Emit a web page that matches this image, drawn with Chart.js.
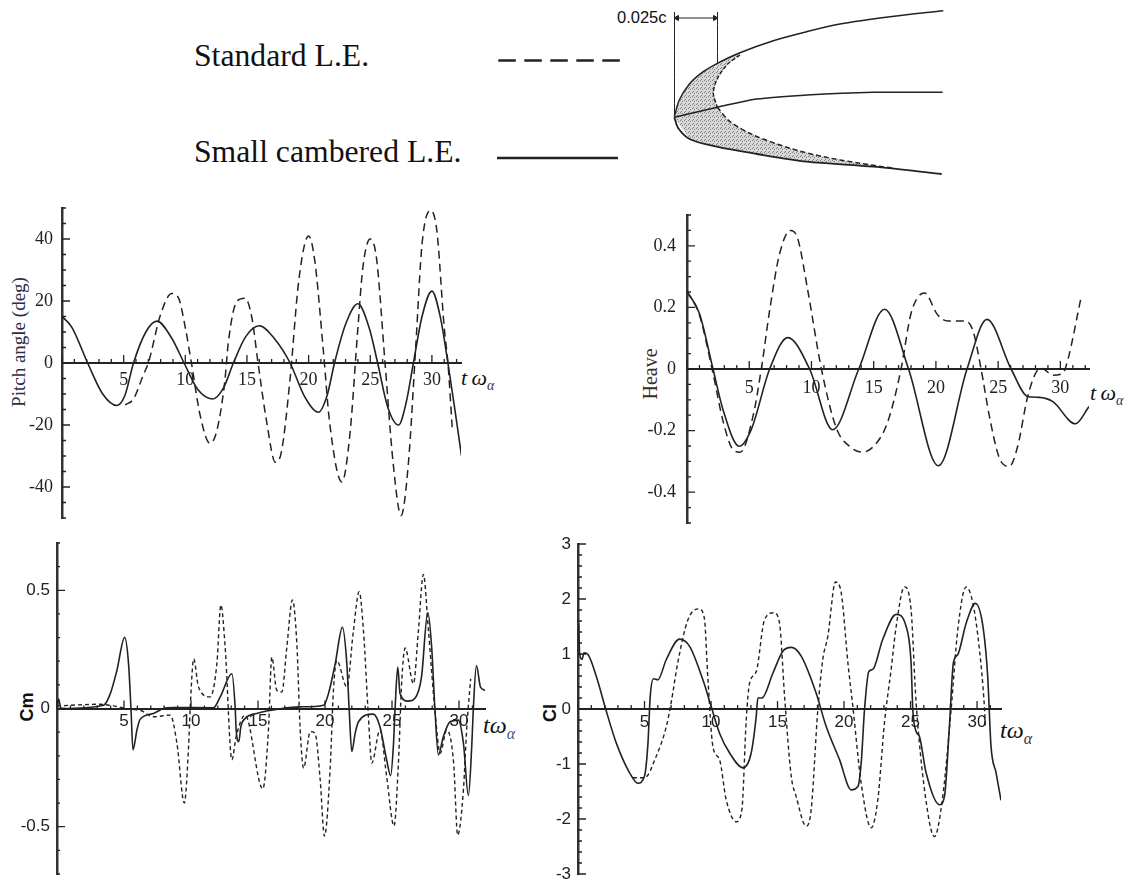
<!DOCTYPE html>
<html>
<head>
<meta charset="utf-8">
<title>Pitch, heave, Cm and Cl</title>
<script src="https://cdn.jsdelivr.net/npm/chart.js@4"></script>
<style>
  body { margin: 0; background: #fff; width: 1126px; height: 883px; overflow: hidden; position: relative; }
  canvas { position: absolute; }
  .txt { position: absolute; white-space: nowrap; color: #111; line-height: 1; }
  .serif { font-family: "Liberation Serif", serif; }
  .sans { font-family: "Liberation Sans", sans-serif; }
  .rot { transform: translate(-50%, -50%) rotate(-90deg); }
  .xl { font-family: "Liberation Serif", serif; font-style: italic; font-size: 22px; transform: translateY(-50%); }
  .xl sub { font-size: 14px; line-height: 0; color: #334; }
</style>
</head>
<body>

<div class="txt serif" style="left:194px;top:40px;font-size:31.7px">Standard L.E.</div>
<div class="txt serif" style="left:194px;top:136px;font-size:31.7px">Small cambered L.E.</div>
<div class="txt sans" style="left:617px;top:9px;font-size:16.5px">0.025c</div>

<div class="txt serif rot" style="left:18px;top:342px;font-size:19px;color:#2c2c4a">Pitch angle (deg)</div>
<div class="txt serif rot" style="left:650px;top:374px;font-size:20px;color:#3a2c2c">Heave</div>
<div class="txt sans rot" style="left:27px;top:707px;font-size:18px;font-weight:bold">Cm</div>
<div class="txt sans rot" style="left:550px;top:713px;font-size:18px;font-weight:bold">Cl</div>

<div class="txt xl" style="left:461px;top:378px">t&thinsp;ω<sub>α</sub></div>
<div class="txt xl" style="left:1090px;top:393px">t&thinsp;ω<sub>α</sub></div>
<div class="txt xl" style="left:483px;top:725px;font-size:24px">tω<sub style="color:#3a5a8a;font-size:16px">α</sub></div>
<div class="txt xl" style="left:1000px;top:730px;font-size:24px">tω<sub style="font-size:16px">α</sub></div>

<script>
// pitch angle
const pitchSolidT = [0, 0.8, 2.08, 3.3, 4.45, 5.1, 5.8, 6.8, 7.7, 8.9, 9.9, 11, 12.2, 13.1, 13.9, 14.9, 16, 17.3, 18.5, 19.7, 20.8, 21.5, 22.1, 23, 24, 24.9, 25.6, 26.4, 27.3, 27.9, 28.5, 29.2, 30, 30.7, 31.3, 31.9, 32.4];
const pitchSolidV = [15, 11.5, 0, -10, -13.7, -10.5, 0, 10, 13.5, 8, 0, -8.5, -11.6, -8, 0, 8.5, 12, 7.5, 0, -11, -15.9, -10.5, 0, 12.5, 19.1, 11.5, 0, -14, -20, -13, 0, 15, 23.2, 14.5, 0, -16, -30];
const pitchDashT = [5.13, 5.8, 6.6, 7, 8, 8.9, 9.45, 10, 10.5, 11.2, 12, 12.55, 13.2, 13.5, 14.2, 14.85, 15.4, 15.9, 16.6, 17.3, 17.8, 18.5, 19.2, 20, 20.5, 21.2, 21.7, 22.7, 23.35, 24, 24.4, 25, 25.5, 26.2, 26.85, 27.5, 28.1, 28.7, 29.2, 29.9, 30.4, 31, 31.3, 31.65];
const pitchDashV = [-13.5, -11.6, -3.8, 0, 15.7, 22.4, 21, 11.4, 0, -16.8, -25.9, -22, -6, 7, 20, 20.9, 14.6, 0, -19, -32, -28.6, -5, 26.5, 41, 33, 3.8, -19, -38.4, -23, 11.4, 30.8, 40, 34, 0, -32, -49.2, -32, 6, 38.4, 49.2, 42.7, 11.4, 0, -21];

// heave
const heaveSolidT = [0, 1, 2.09, 2.9, 4.2, 5.16, 6.64, 8.1, 9.85, 11.7, 13.8, 15.87, 17.8, 20.2, 22.5, 24.1, 26.04, 27.4, 28.3, 29.4, 31.2, 32.3];
const heaveSolidV = [0.252, 0.18, 0, -0.133, -0.251, -0.197, 0, 0.102, 0, -0.197, 0, 0.194, 0, -0.314, 0, 0.161, 0, -0.09, -0.092, -0.106, -0.178, -0.122];
const heaveDashT = [0, 1, 2.09, 2.9, 3.7, 4.28, 5.3, 5.97, 6.64, 7.44, 8.32, 8.9, 9.7, 10.8, 12, 13.06, 14.1, 15.6, 16.27, 17.2, 18, 19.08, 20.15, 20.95, 22.4, 23, 23.63, 24.3, 25.1, 25.9, 26.57, 27.37, 28.18, 28.5, 29.4, 30.2, 30.6, 31.66];
const heaveDashV = [0.252, 0.175, -0.014, -0.17, -0.262, -0.27, -0.154, 0, 0.19, 0.374, 0.45, 0.423, 0.256, 0, -0.192, -0.251, -0.27, -0.219, -0.154, 0, 0.18, 0.247, 0.175, 0.156, 0.156, 0.121, 0, -0.154, -0.289, -0.316, -0.251, -0.09, -0.003, 0.002, -0.02, -0.014, 0.03, 0.232];

// Cm
const cmSolidT = [0, 0.12, 0.3, 3.48, 3.98, 4.47, 5.05, 5.34, 5.52, 5.67, 5.97, 6.2, 7.2, 7.95, 8.7, 11.68, 12.18, 13.05, 13.3, 13.37, 13.57, 13.72, 14.04, 14.9, 16.78, 18.15, 19.9, 20.26, 20.76, 21.3, 21.63, 21.8, 22, 22.25, 22.5, 23.6, 24.1, 24.6, 24.9, 25.1, 25.23, 25.43, 25.6, 26.2, 26.7, 27.2, 27.67, 27.96, 28.2, 28.46, 28.83, 29.33, 29.95, 30.33, 30.7, 30.95, 31.07, 31.3, 31.6, 31.94];
const cmSolidV = [0, 0.04, 0, 0.014, 0.063, 0.161, 0.301, 0.189, 0, -0.175, -0.09, -0.046, -0.021, 0, 0.004, 0.003, 0.049, 0.147, 0, -0.091, -0.14, -0.077, -0.042, -0.021, 0, 0.007, 0.014, 0.063, 0.189, 0.343, 0.189, 0, -0.182, -0.105, -0.056, -0.024, -0.077, -0.217, -0.284, -0.161, 0, 0.175, 0.063, 0.031, 0.042, 0.133, 0.406, 0.259, 0, -0.196, -0.119, -0.056, -0.049, -0.147, -0.368, -0.161, 0, 0.182, 0.091, 0.077];
const cmDashT = [0, 3.23, 4.2, 5.47, 6.2, 7.2, 8.45, 8.95, 9.5, 9.82, 9.94, 10.2, 10.56, 11.43, 11.93, 12.23, 12.55, 13.05, 13.37, 14.04, 15.36, 15.78, 16.03, 16.4, 16.78, 17.15, 17.57, 17.9, 18.15, 18.4, 18.9, 19.26, 19.64, 19.96, 20.38, 20.63, 20.88, 21.63, 22.12, 22.55, 22.87, 23.24, 23.49, 24.1, 24.6, 25.15, 25.48, 25.73, 25.98, 26.6, 26.97, 27.34, 27.72, 28.2, 28.6, 29.08, 29.6, 29.9, 30.33, 30.57, 30.87];
const cmDashV = [0.011, 0.018, 0.011, -0.003, -0.007, -0.035, -0.028, -0.147, -0.4, -0.161, 0, 0.21, 0.091, 0.049, 0.189, 0.438, 0.259, -0.217, -0.119, -0.028, -0.34, -0.091, 0.217, 0.077, 0.07, 0.259, 0.459, 0.273, -0.091, -0.252, -0.098, -0.105, -0.301, -0.54, -0.259, 0.077, 0.203, 0.091, 0.329, 0.494, 0.329, -0.035, -0.231, -0.091, -0.287, -0.497, -0.231, 0.119, 0.256, 0.105, 0.329, 0.567, 0.329, -0.007, -0.189, -0.091, -0.231, -0.536, -0.343, -0.091, 0.126];

// Cl
const clSolidT = [0.05, 0.12, 0.3, 0.45, 0.75, 1.38, 2.08, 2.88, 3.88, 4.5, 5, 5.26, 5.43, 5.68, 6, 6.64, 7.64, 8.39, 9.39, 9.97, 10.64, 11.4, 12.4, 13.02, 13.4, 13.52, 13.82, 14.65, 15.4, 16.03, 16.78, 17.9, 18.66, 19.66, 20.54, 21.04, 21.29, 21.54, 21.86, 22.16, 22.9, 23.92, 24.67, 25.04, 25.17, 25.42, 25.67, 26.17, 27.17, 27.55, 27.92, 28.22, 28.55, 29.18, 29.88, 30.48, 30.8, 31.05, 31.43, 31.8];
const clSolidV = [1.56, 1.02, 0.9, 1.02, 0.99, 0.59, 0, -0.62, -1.16, -1.35, -1.22, -0.62, 0.23, 0.55, 0.53, 0.9, 1.27, 1.14, 0.53, 0.08, -0.44, -0.8, -1.07, -0.8, -0.13, 0.2, 0.2, 0.65, 1.05, 1.12, 0.96, 0.29, -0.32, -0.92, -1.47, -1.41, -0.98, -0.01, 0.68, 0.72, 1.26, 1.72, 1.5, 0.84, -0.01, -0.41, -0.5, -1.16, -1.74, -1.59, -0.32, 0.84, 0.99, 1.56, 1.92, 1.44, 0.59, -0.68, -1.16, -1.66];
const clDashT = [4.13, 5, 5.88, 6.64, 7, 7.5, 8.26, 9.09, 9.5, 9.77, 10.14, 10.64, 11.14, 11.9, 12.32, 12.65, 12.9, 13.4, 14.02, 14.73, 15.15, 15.53, 16.03, 16.4, 17.15, 17.53, 18.03, 18.4, 18.78, 19.36, 19.79, 20.29, 20.66, 21.29, 22.04, 22.54, 23.04, 23.54, 23.92, 24.54, 25.04, 25.42, 26.3, 26.8, 27.42, 28.05, 28.55, 29.18, 29.68, 30.18, 30.55, 30.63];
const clDashV = [-1.25, -1.25, -0.86, -0.32, 0.11, 0.84, 1.62, 1.82, 1.65, 0.53, -0.68, -0.92, -1.65, -2.05, -1.83, -0.19, 0.47, 0.68, 1.62, 1.75, 1.56, 0.23, -1.22, -1.59, -2.13, -1.83, -0.01, 0.9, 1.32, 2.31, 2.11, 0.84, 0.05, -1.35, -2.16, -1.65, -0.25, 0.72, 1.5, 2.22, 1.8, 0.11, -1.89, -2.32, -1.59, -0.01, 1.44, 2.22, 1.93, 1.08, 0.05, -0.32];

// airfoil sketch + legend samples, in page units
const foilUpperX = [674.3, 679.3, 690, 703.3, 717.3, 740, 773.3, 806.7, 840, 890, 943.3];
const foilUpperY = [116.7, 100, 83.3, 71.7, 63.3, 52.7, 40.7, 31.7, 24, 16.7, 10.7];
const foilCamberX = [674.3, 717.3, 756.7, 806.7, 873.3, 942.7];
const foilCamberY = [117.3, 107.3, 99, 95, 92.3, 92.3];
const foilLowerX = [674.3, 678.3, 690, 716.7, 756.7, 806.7, 873.3, 941.7];
const foilLowerY = [117.3, 128.3, 139.3, 146.7, 154, 161.7, 166.7, 174];
const stdTopX = [740, 726.7, 716.7, 713.3, 717.3];
const stdTopY = [55, 65, 80, 93.3, 107.3];
const stdBottomX = [717.3, 730, 753.3, 790, 823.3, 856.7, 893.3];
const stdBottomY = [107.3, 121.7, 135, 148.3, 156.7, 162.7, 168.3];
const dimLeftX = [674.5, 674.5], dimLeftY = [12, 116];
const dimRightX = [717.5, 717.5], dimRightY = [12, 64];
const dimArrowX = [677, 715], dimArrowY = [18, 18];
const legendDashX = [498.3, 620], legendDashY = [60.5, 60.5];
const legendSolidX = [497, 618], legendSolidY = [158, 158];

const zip = (xs, ys) => xs.map((x, i) => ({ x, y: ys[i] }));

// ticks on the inside of the axes, Tecplot style
const innerTicks = {
    id: 'innerTicks',
    beforeDatasetsDraw(chart, args, o) {
        const { ctx, scales: { x, y } } = chart;
        const y0 = y.getPixelForValue(0);
        const isMult = (v, s) => Math.abs(v / s - Math.round(v / s)) < 1e-6;
        ctx.save();
        ctx.strokeStyle = '#222';
        ctx.lineWidth = 1.3;
        ctx.beginPath();
        x.ticks.forEach(t => {
            const px = x.getPixelForValue(t.value);
            const len = isMult(t.value, 5) ? o.xMajorLen : o.xMinorLen;
            ctx.moveTo(px, y0);
            ctx.lineTo(px, y0 - len);
        });
        y.ticks.forEach(t => {
            const py = y.getPixelForValue(t.value);
            const len = isMult(t.value, o.yMajor) ? o.yMajorLen : o.yMinorLen;
            ctx.moveTo(x.left, py);
            ctx.lineTo(x.left + len, py);
        });
        ctx.stroke();
        ctx.restore();
    },
};

function panel(p) {
    const cv = document.createElement('canvas');
    const pad = 70;
    cv.width = p.right - p.left + pad + 12;
    cv.height = p.bottom - p.top + 30;
    cv.style.left = (p.left - pad) + 'px';
    cv.style.top = (p.top - 15) + 'px';
    document.body.appendChild(cv);
    const isMult = (v, s) => Math.abs(v / s - Math.round(v / s)) < 1e-6;
    new Chart(cv, {
        type: 'line',
        plugins: [innerTicks],
        data: {
            datasets: [
                { data: zip(p.solidT, p.solidV), borderColor: '#222', borderWidth: 1.6, cubicInterpolationMode: 'monotone', pointRadius: 0 },
                { data: zip(p.dashT, p.dashV), borderColor: '#222', borderWidth: p.dashWidth, borderDash: p.dash, cubicInterpolationMode: 'monotone', pointRadius: 0 },
            ],
        },
        options: {
            responsive: false,
            animation: false,
            layout: { autoPadding: false, padding: { top: 15, bottom: 15, right: 12, left: 0 } },
            plugins: {
                legend: { display: false },
                tooltip: { enabled: false },
                innerTicks: { yMajor: p.yMajor, xMajorLen: p.xMajorLen, xMinorLen: p.xMinorLen, yMajorLen: 8, yMinorLen: p.yMinorLen },
            },
            scales: {
                x: {
                    type: 'linear',
                    min: 0,
                    max: p.xMax,
                    position: { y: 0 },
                    grid: { display: false, drawTicks: false },
                    border: { color: '#222', width: 2 },
                    ticks: {
                        stepSize: 1,
                        autoSkip: false,
                        includeBounds: false,
                        maxRotation: 0,
                        padding: p.xPad,
                        color: '#222',
                        font: { family: p.font, size: p.fontSize },
                        callback: v => (v > 0 && isMult(v, 5)) ? String(v) : '',
                    },
                },
                y: {
                    min: p.yMin,
                    max: p.yMax,
                    // tick padding would otherwise eat into the plot height
                    afterFit: s => { s.width = pad; s.paddingTop = 0; s.paddingBottom = 0; },
                    grid: { display: false, drawTicks: false },
                    border: { color: '#333', width: 2.5 },
                    ticks: {
                        stepSize: p.yStep,
                        autoSkip: false,
                        includeBounds: false,
                        padding: p.yPad,
                        color: '#222',
                        font: { family: p.font, size: p.fontSize },
                        callback: v => isMult(v, p.yLabel) ? String(+v.toFixed(3)) : '',
                    },
                },
            },
        },
    });
}

const serif = '"Liberation Serif", serif', sans = '"Liberation Sans", sans-serif';

panel({ left: 62, right: 461.7, top: 208, bottom: 518, xMax: 32.36, yMin: -50, yMax: 50, yStep: 5, yLabel: 20, yMajor: 20,
    solidT: pitchSolidT, solidV: pitchSolidV, dashT: pitchDashT, dashV: pitchDashV,
    dash: [8, 5], dashWidth: 1.5, font: serif, fontSize: 18, xPad: 6, yPad: 9, xMajorLen: 8, xMinorLen: 4, yMinorLen: 4 });

panel({ left: 687.3, right: 1090, top: 215, bottom: 523, xMax: 32.3, yMin: -0.5, yMax: 0.5, yStep: 0.05, yLabel: 0.2, yMajor: 0.2,
    solidT: heaveSolidT, solidV: heaveSolidV, dashT: heaveDashT, dashV: heaveDashV,
    dash: [8, 5], dashWidth: 1.5, font: serif, fontSize: 18, xPad: 8, yPad: 11, xMajorLen: 8, xMinorLen: 4, yMinorLen: 4 });

panel({ left: 56.7, right: 485, top: 542.5, bottom: 874.3, xMax: 31.94, yMin: -0.7, yMax: 0.7, yStep: 0.1, yLabel: 0.5, yMajor: 0.5,
    solidT: cmSolidT, solidV: cmSolidV, dashT: cmDashT, dashV: cmDashV,
    dash: [4, 3], dashWidth: 1.4, font: sans, fontSize: 17, xPad: 3, yPad: 7, xMajorLen: 8, xMinorLen: 3, yMinorLen: 3 });

panel({ left: 578.3, right: 1001.7, top: 544, bottom: 874.3, xMax: 31.8, yMin: -3, yMax: 3, yStep: 0.2, yLabel: 1, yMajor: 1,
    solidT: clSolidT, solidV: clSolidV, dashT: clDashT, dashV: clDashV,
    dash: [4, 3], dashWidth: 1.4, font: sans, fontSize: 17, xPad: 3, yPad: 7, xMajorLen: 8, xMinorLen: 4, yMinorLen: 4 });

// header: legend samples and the leading edge sketch
const stipple = document.createElement('canvas');
stipple.width = stipple.height = 4;
const sc = stipple.getContext('2d');
sc.fillStyle = '#d8d8d8';
sc.fillRect(0, 0, 4, 4);
sc.fillStyle = '#808080';
sc.fillRect(0, 0, 1, 1);
sc.fillRect(2, 1, 1, 1);
sc.fillRect(1, 3, 1, 1);
const shade = sc.createPattern(stipple, 'repeat');

const headCv = document.createElement('canvas');
headCv.width = 1126;
headCv.height = 195;
headCv.style.left = '0px';
headCv.style.top = '0px';
document.body.appendChild(headCv);

const curve = (xs, ys, extra) => Object.assign({ data: zip(xs, ys), borderColor: '#222', borderWidth: 1.5, tension: 0.3, pointRadius: 0 }, extra);
const shadeTopX = [...foilUpperX.slice(0, 6), ...stdTopX, foilCamberX[0]];
const shadeTopY = [...foilUpperY.slice(0, 6), ...stdTopY, foilCamberY[0]];
const shadeBotX = [foilCamberX[0], ...stdBottomX, ...foilLowerX.slice().reverse().slice(1, 6), foilLowerX[0]];
const shadeBotY = [foilCamberY[0], ...stdBottomY, ...foilLowerY.slice().reverse().slice(1, 6), foilLowerY[0]];

new Chart(headCv, {
    type: 'line',
    data: {
        datasets: [
            curve(foilUpperX, foilUpperY),
            curve(foilCamberX, foilCamberY),
            curve(foilLowerX, foilLowerY, { borderWidth: 1.8 }),
            curve(stdTopX, stdTopY, { borderDash: [4, 2] }),
            curve(stdBottomX, stdBottomY, { borderDash: [5, 3] }),
            curve(dimLeftX, dimLeftY, { borderWidth: 1 }),
            curve(dimRightX, dimRightY, { borderWidth: 1 }),
            curve(dimArrowX, dimArrowY, { borderWidth: 1, pointRadius: 3, pointStyle: 'triangle', pointBackgroundColor: '#222', pointRotation: [-90, 90] }),
            curve(legendDashX, legendDashY, { borderWidth: 2.4, borderDash: [17.5, 8.5], tension: 0 }),
            curve(legendSolidX, legendSolidY, { borderWidth: 2.4, tension: 0 }),
            curve(shadeTopX, shadeTopY, { borderWidth: 0, tension: 0, fill: 'shape', backgroundColor: shade }),
            curve(shadeBotX, shadeBotY, { borderWidth: 0, tension: 0, fill: 'shape', backgroundColor: shade }),
        ],
    },
    options: {
        responsive: false,
        animation: false,
        layout: { autoPadding: false },
        plugins: { legend: { display: false }, tooltip: { enabled: false } },
        scales: {
            x: { type: 'linear', min: 0, max: 1126, display: false },
            y: { min: 0, max: 195, reverse: true, display: false },
        },
    },
});
</script>
</body>
</html>
